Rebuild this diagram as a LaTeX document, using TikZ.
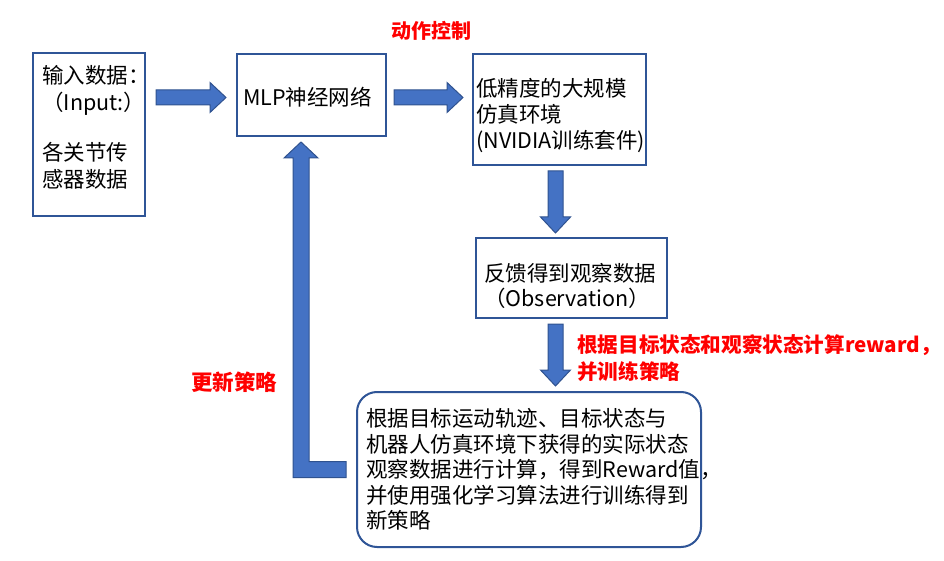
\documentclass[tikz,border=0pt]{standalone}
\usepackage{fontspec}
\setmainfont{Noto Sans CJK SC}
\usetikzlibrary{calc}
\definecolor{boxblue}{HTML}{2F5597}
\definecolor{arrowblue}{HTML}{4472C4}
\definecolor{arrowedge}{HTML}{2F528F}
\definecolor{labelred}{HTML}{FF0000}
\newcommand{\blockarrow}[2]{%
  \coordinate (bah) at ($(#2)!16pt!(#1)$);
  \filldraw[blockarr] ($(#1)!7.5pt!90:(#2)$) -- ($(bah)!7.5pt!90:(#2)$) -- ($(bah)!15pt!90:(#2)$) -- (#2) -- ($(bah)!15pt!-90:(#2)$) -- ($(bah)!7.5pt!-90:(#2)$) -- ($(#1)!7.5pt!-90:(#2)$) -- cycle;}
\begin{document}
\begin{tikzpicture}[x=1pt,y=-1pt,
  box/.style={draw=boxblue, line width=2pt, inner sep=0pt, fill=white},
  txt/.style={inner sep=0pt, align=left, text=black, font=\fontsize{21.5}{26}\selectfont},
  redlabel/.style={inner sep=0pt, align=left, text=labelred, font=\fontsize{21.5}{27}\selectfont\bfseries},
  blockarr/.style={fill=arrowblue, draw=arrowedge, line width=1pt, line join=miter}]
\useasboundingbox (0,0) rectangle (944,561);
% boxes
\node[box, minimum width=112pt, minimum height=163pt] (b1) at (89,134.5) {};
\node[box, minimum width=149pt, minimum height=82pt] (b2) at (311.5,95) {};
\node[box, minimum width=173pt, minimum height=111pt] (b3) at (559.5,109.5) {};
\node[box, minimum width=191pt, minimum height=80pt] (b4) at (571.5,278) {};
\node[box, rounded corners=20pt, minimum width=344pt, minimum height=155pt] (b5) at (529,469.5) {};
% texts
\node[txt, anchor=west, font=\fontsize{21.5}{27}\selectfont] (t1) at ($(b1.west)+(10,-7)$) {输入数据：\\（Input:）\\[23pt]各关节传\\感器数据};
\node[txt, anchor=west] (t2) at ($(b2.west)+(7,2)$) {MLP神经网络};
\node[txt, anchor=west] (t3) at ($(b3.west)+(4,6.5)$) {低精度的大规模\\仿真环境\\(NVIDIA训练套件)};
\node[txt, anchor=west, font=\fontsize{21.5}{25}\selectfont] (t4) at ($(b4.west)+(9,7.5)$) {反馈得到观察数据\\（Observation）};
\node[txt, anchor=west, font=\fontsize{21.5}{25.5}\selectfont] (t5) at ($(b5.west)+(10,0)$) {根据目标运动轨迹、目标状态与\\机器人仿真环境下获得的实际状态\\观察数据进行计算，得到Reward值，\\并使用强化学习算法进行训练得到\\新策略};
% arrow coordinates
\coordinate (a1s) at ($(b1.east|-b2.west)+(10,2.5)$);
\coordinate (a1e) at ($(b2.west)+(-10,2.5)$);
\coordinate (a2s) at ($(b2.east)+(7,2.5)$);
\coordinate (a2e) at ($(b3.west|-b2.west)+(-9,2.5)$);
\coordinate (a3s) at ($(b3.south)+(-4,5)$);
\coordinate (a3e) at ($(a3s|-b4.north)+(0,-4)$);
\coordinate (a4s) at ($(a3s|-b4.south)+(0,5)$);
\coordinate (a4e) at ($(a3s|-b5.north)+(0,-5)$);
\blockarrow{a1s}{a1e}
\blockarrow{a2s}{a2e}
\blockarrow{a3s}{a3e}
\blockarrow{a4s}{a4e}
% bent feedback arrow
\coordinate (e5) at ($(b5.west)+(-10,0)$);
\coordinate (tip) at ($(b2.south)+(-10.5,5)$);
\coordinate (cn) at (tip|-e5);
\filldraw[blockarr] ($(e5)+(0,-8)$) -- ($(cn)+(8,-8)$) -- ($(tip)+(8,16)$) -- ($(tip)+(17,16)$) -- (tip) -- ($(tip)+(-17,16)$) -- ($(tip)+(-8,16)$) -- ($(cn)+(-8,8)$) -- ($(e5)+(0,8)$) -- cycle;
% red labels
\node[redlabel, font=\fontsize{20}{24}\selectfont\bfseries] (l1) at (431,31) {动作控制};
\node[redlabel] (l2) at (234,382) {更新策略};
\node[redlabel, anchor=west, font=\fontsize{20.6}{27}\selectfont\bfseries] (l3) at (577,358.5) {根据目标状态和观察状态计算reward，\\并训练策略};
\end{tikzpicture}
\end{document}
